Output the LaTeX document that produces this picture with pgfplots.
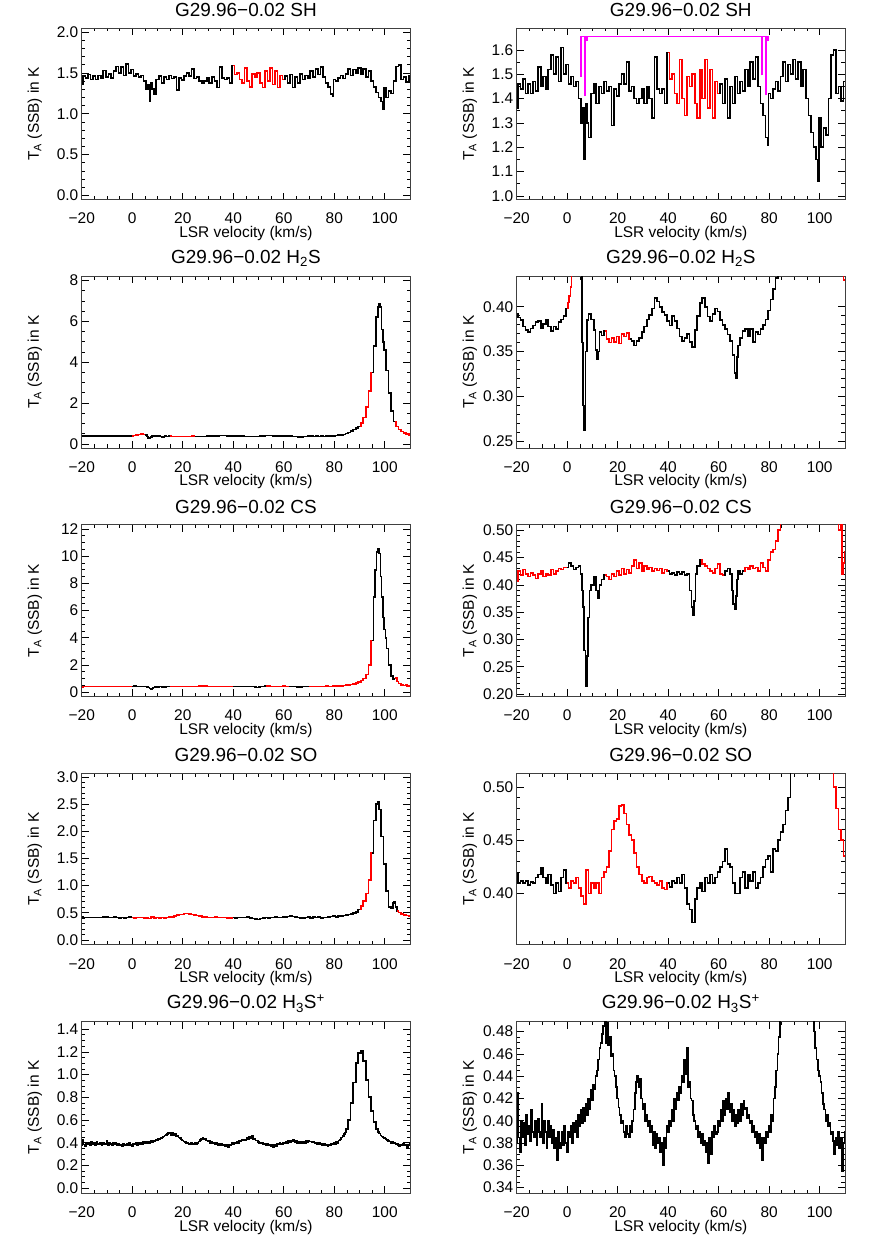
\documentclass[border=0pt]{standalone}
\usepackage{fontspec}
\setmainfont{Liberation Sans}
\usepackage{pgfplots}
\usepackage{pgfplotstable}
\pgfplotsset{compat=1.18}

\pgfplotstableread{
v T
-20 1.36
-19 1.46
-18 1.44
-17 1.48
-16 1.42
-15 1.46
-14 1.42
-13 1.47
-12 1.43
-11 1.53
-10 1.45
-9 1.49
-8 1.44
-7 1.52
-6 1.58
-5 1.50
-4 1.57
-3 1.47
-2 1.61
-1 1.50
0 1.54
1 1.46
2 1.49
3 1.45
4 1.47
5 1.40
6 1.30
6.5 1.36
7 1.15
7.5 1.38
8 1.30
9 1.24
10 1.42
11 1.46
12 1.38
13 1.45
14 1.42
15 1.47
16 1.43
17 1.45
18 1.29
19 1.44
20 1.41
21 1.46
22 1.50
23 1.46
24 1.55
25 1.43
26 1.45
27 1.40
28 1.38
29 1.40
30 1.44
31 1.38
32 1.45
33 1.40
34 1.32
35 1.57
36 1.44
37 1.42
38 1.44
39 1.38
40 1.59
41 1.48
42 1.50
43 1.42
44 1.38
45 1.56
46 1.40
47 1.33
48 1.49
49 1.45
50 1.50
51 1.38
52 1.32
53 1.52
54 1.40
55 1.56
56 1.36
57 1.52
58 1.32
59 1.47
60 1.42
61 1.46
62 1.38
63 1.48
64 1.32
65 1.45
66 1.38
67 1.49
68 1.42
69 1.47
70 1.43
71 1.52
72 1.45
73 1.55
74 1.48
75 1.57
76 1.45
77 1.38
78 1.33
79 1.24
79.5 1.21
80 1.42
81 1.40
82 1.44
83 1.47
84 1.43
85 1.49
86 1.55
87 1.47
88 1.54
89 1.50
90 1.56
91 1.48
92 1.55
93 1.45
94 1.52
95 1.40
96 1.33
97 1.26
98 1.20
99 1.15
99.5 1.06
100 1.32
101 1.20
102 1.28
103 1.25
104 1.40
105 1.58
106 1.60
107 1.42
108 1.45
109 1.39
110 1.47
}\shdata

\pgfplotstableread{
v T
-20 0.392
-19 0.388
-18 0.385
-17 0.378
-16 0.374
-15 0.372
-14 0.376
-13 0.379
-12 0.383
-11 0.384
-10 0.376
-9 0.381
-8 0.385
-7 0.378
-6 0.373
-5 0.378
-4 0.375
-3 0.383
-2 0.386
-1 0.390
0 0.398
0.5 0.405
1 0.412
1.5 0.422
2 0.435
2.5 0.45
3 0.465
4 0.478
5 0.462
5.5 0.44
6 0.36
6.5 0.29
7 0.262
7.5 0.35
8 0.385
9 0.392
10 0.386
11 0.374
11.5 0.352
12 0.342
12.5 0.35
13 0.372
14 0.368
15 0.373
16 0.364
17 0.360
18 0.365
19 0.361
20 0.367
21 0.359
22 0.370
23 0.367
24 0.371
25 0.364
26 0.362
27 0.357
28 0.362
29 0.365
30 0.372
31 0.378
32 0.386
33 0.391
34 0.398
35 0.410
36 0.406
37 0.400
38 0.394
39 0.391
40 0.384
41 0.379
42 0.390
43 0.384
44 0.376
45 0.367
46 0.362
47 0.365
48 0.370
49 0.361
50 0.355
51 0.374
52 0.390
53 0.404
54 0.410
55 0.400
56 0.389
57 0.384
58 0.392
59 0.398
60 0.395
61 0.385
62 0.380
63 0.375
64 0.369
65 0.362
66 0.346
66.5 0.326
67 0.320
67.5 0.344
68 0.357
69 0.365
70 0.373
71 0.375
72 0.367
73 0.375
74 0.361
75 0.372
76 0.369
77 0.375
78 0.380
79 0.386
80 0.396
81 0.408
82 0.420
83 0.432
84 0.450
85 0.50
86 0.55
87 0.62
88 0.70
89 0.78
90 0.86
91 1.02
92 1.30
93 1.80
94 2.60
95 3.50
96 4.80
97 6.20
97.5 6.70
98 6.85
98.5 6.70
99 5.60
99.5 5.00
100 4.60
101 3.60
102 2.50
103 1.60
104 1.10
105 0.85
106 0.70
107 0.60
108 0.52
109 0.47
110 0.43
}\hssdata

\pgfplotstableread{
v T
-20 0.407
-19 0.425
-18 0.418
-17 0.428
-16 0.420
-15 0.415
-14 0.422
-13 0.418
-12 0.412
-11 0.420
-10 0.425
-9 0.415
-8 0.420
-7 0.418
-6 0.428
-5 0.420
-4 0.425
-3 0.430
-2 0.428
-1 0.432
0 0.432
1 0.440
2 0.435
3 0.428
4 0.432
5 0.435
5.5 0.420
6 0.390
6.5 0.360
7 0.280
7.5 0.215
8 0.270
8.5 0.340
9 0.390
10 0.400
11 0.415
12 0.390
12.5 0.375
13 0.400
14 0.410
15 0.418
16 0.415
17 0.410
18 0.420
19 0.415
20 0.425
21 0.418
22 0.430
23 0.420
24 0.428
25 0.422
26 0.435
27 0.445
28 0.430
29 0.440
30 0.425
31 0.435
32 0.428
33 0.432
34 0.425
35 0.430
36 0.426
37 0.430
38 0.422
39 0.428
40 0.425
41 0.420
42 0.422
43 0.418
44 0.424
45 0.420
46 0.424
47 0.418
48 0.420
49 0.390
49.5 0.360
50 0.345
50.5 0.370
51 0.420
52 0.435
53 0.445
54 0.438
55 0.435
56 0.430
57 0.425
58 0.422
59 0.430
60 0.438
61 0.420
62 0.418
63 0.425
64 0.430
65 0.420
65.5 0.390
66 0.365
66.5 0.355
67 0.380
67.5 0.410
68 0.425
69 0.420
70 0.425
71 0.432
72 0.428
73 0.435
74 0.430
75 0.432
76 0.425
77 0.440
78 0.432
79 0.425
80 0.445
81 0.460
82 0.465
83 0.480
84 0.500
85 0.520
86 0.550
87 0.580
88 0.620
89 0.670
90 0.750
91 0.850
92 1.000
93 1.300
94 2.000
95 3.800
96 7.000
96.5 9.000
97 10.30
97.5 10.50
98 10.20
98.5 8.50
99 7.00
99.5 5.50
100 4.60
100.5 4.00
101 3.20
102 2.00
103 1.20
103.5 0.95
104 1.00
104.5 1.05
105 0.80
106 0.65
107 0.55
108 0.50
108.5 0.52
109 0.42
109.5 0.44
110 0.46
}\csdata

\pgfplotstableread{
v T
-20 0.419
-19 0.410
-18 0.412
-17 0.410
-16 0.412
-15 0.408
-14 0.411
-13 0.410
-12 0.415
-11 0.418
-10 0.424
-9 0.415
-8 0.410
-7 0.418
-6 0.408
-5 0.400
-4 0.410
-3 0.402
-2 0.415
-1 0.422
0 0.410
1 0.405
2 0.412
3 0.410
4 0.415
5 0.405
6 0.398
7 0.390
8 0.422
9 0.400
10 0.410
11 0.405
12 0.410
13 0.400
14 0.415
15 0.420
16 0.425
17 0.440
18 0.460
19 0.468
20 0.470
21 0.482
22 0.483
23 0.475
24 0.465
25 0.455
26 0.450
27 0.438
28 0.425
29 0.418
30 0.412
31 0.410
32 0.415
33 0.416
34 0.412
35 0.410
36 0.408
37 0.412
38 0.405
39 0.404
40 0.410
41 0.406
42 0.412
43 0.410
44 0.415
45 0.410
46 0.418
47 0.405
48 0.390
49 0.385
50 0.373
51 0.395
52 0.405
53 0.410
54 0.402
55 0.415
56 0.410
57 0.418
58 0.410
59 0.415
60 0.420
61 0.425
62 0.430
63 0.442
64 0.428
65 0.425
66 0.410
67 0.400
68 0.400
69 0.415
70 0.420
71 0.405
72 0.418
73 0.412
74 0.420
75 0.405
76 0.410
77 0.415
78 0.425
79 0.432
80 0.435
81 0.420
82 0.442
83 0.440
84 0.450
85 0.458
86 0.465
87 0.478
88 0.490
89 0.515
90 0.560
91 0.620
92 0.720
93 0.850
94 1.100
95 1.600
96 2.200
97 2.500
97.5 2.550
98 2.400
99 1.900
100 1.400
101 0.900
102 0.600
103 0.580
103.5 0.680
104 0.700
104.5 0.600
105 0.530
106 0.500
107 0.480
108 0.460
109 0.450
110 0.435
}\sodata

\pgfplotstableread{
v T
-20.0 0.38
-19.5 0.425
-19.0 0.385
-18.5 0.372
-18.0 0.40
-17.5 0.385
-17.0 0.398
-16.5 0.378
-16.0 0.405
-15.5 0.388
-15.0 0.395
-14.5 0.382
-14.0 0.41
-13.5 0.39
-13.0 0.385
-12.5 0.40
-12.0 0.378
-11.5 0.402
-11.0 0.39
-10.5 0.385
-10.0 0.415
-9.5 0.38
-9.0 0.40
-8.5 0.39
-8.0 0.375
-7.5 0.40
-7.0 0.385
-6.5 0.395
-6.0 0.38
-5.5 0.392
-5.0 0.375
-4.5 0.385
-4.0 0.365
-3.5 0.39
-3.0 0.38
-2.5 0.375
-2.0 0.39
-1.5 0.378
-1.0 0.395
-0.5 0.38
0.0 0.372
0.5 0.39
1.0 0.385
1.5 0.395
2.0 0.38
2.5 0.398
3.0 0.39
3.5 0.40
4.0 0.385
4.5 0.405
5.0 0.395
5.5 0.41
6.0 0.398
6.5 0.412
7.0 0.40
7.5 0.415
8.0 0.405
8.5 0.42
9.0 0.41
9.5 0.428
10.0 0.418
10.5 0.432
11.0 0.428
11.5 0.44
12.0 0.445
12.5 0.455
13.0 0.465
13.5 0.47
14.0 0.478
14.5 0.485
15.0 0.49
15.5 0.47
16.0 0.488
16.5 0.468
17.0 0.475
17.5 0.458
18.0 0.46
18.5 0.445
19.0 0.44
19.5 0.43
20.0 0.42
20.5 0.412
21.0 0.405
21.5 0.398
22.0 0.40
22.5 0.39
23.0 0.385
23.5 0.395
24.0 0.388
24.5 0.385
25.0 0.395
25.5 0.39
26.0 0.40
26.5 0.41
27.0 0.425
27.5 0.435
28.0 0.44
28.5 0.43
29.0 0.438
29.5 0.42
30.0 0.41
30.5 0.415
31.0 0.40
31.5 0.405
32.0 0.395
32.5 0.40
33.0 0.39
33.5 0.395
34.0 0.378
34.5 0.39
35.0 0.375
35.5 0.388
36.0 0.38
36.5 0.385
37.0 0.372
37.5 0.38
38.0 0.36
38.5 0.385
39.0 0.375
39.5 0.395
40.0 0.39
40.5 0.40
41.0 0.395
41.5 0.41
42.0 0.40
42.5 0.42
43.0 0.41
43.5 0.425
44.0 0.418
44.5 0.43
45.0 0.425
45.5 0.44
46.0 0.435
46.5 0.455
47.0 0.442
47.5 0.465
48.0 0.43
48.5 0.435
49.0 0.42
49.5 0.418
50.0 0.405
50.5 0.40
51.0 0.392
51.5 0.395
52.0 0.385
52.5 0.39
53.0 0.38
53.5 0.388
54.0 0.378
54.5 0.382
55.0 0.372
55.5 0.38
56.0 0.362
56.5 0.385
57.0 0.37
57.5 0.39
58.0 0.385
58.5 0.395
59.0 0.388
59.5 0.39
60.0 0.40
60.5 0.395
61.0 0.41
61.5 0.40
62.0 0.418
62.5 0.405
63.0 0.42
63.5 0.41
64.0 0.425
64.5 0.408
65.0 0.415
65.5 0.40
66.0 0.41
66.5 0.395
67.0 0.405
67.5 0.398
68.0 0.41
68.5 0.40
69.0 0.415
69.5 0.405
70.0 0.418
70.5 0.41
71.0 0.412
71.5 0.402
72.0 0.405
72.5 0.398
73.0 0.40
73.5 0.39
74.0 0.395
74.5 0.385
75.0 0.39
75.5 0.38
76.0 0.388
76.5 0.375
77.0 0.385
77.5 0.365
78.0 0.385
78.5 0.38
79.0 0.39
79.5 0.385
80.0 0.395
80.5 0.39
81.0 0.405
81.5 0.40
82.0 0.42
82.5 0.43
83.0 0.445
83.5 0.46
84.0 0.475
84.5 0.49
85.0 0.52
86.0 0.60
87.0 0.75
88.0 0.93
89.0 1.10
90.0 1.19
91.0 1.21
92.0 1.12
93.0 0.95
94.0 0.80
95.0 0.68
96.0 0.58
97.0 0.52
97.5 0.495
98.0 0.48
98.5 0.465
99.0 0.455
99.5 0.445
100.0 0.44
100.5 0.435
101.0 0.425
101.5 0.415
102.0 0.41
102.5 0.40
103.0 0.405
103.5 0.395
104.0 0.398
104.5 0.388
105.0 0.39
105.5 0.382
106.0 0.37
106.5 0.385
107.0 0.378
107.5 0.39
108.0 0.375
108.5 0.385
109.0 0.355
109.5 0.38
110.0 0.39
}\hthreedata

\pgfplotsset{
  spec/.style={
    scale only axis, width=329pt, height=172pt,
    xmin=-20, xmax=110,
    xtick={-20,0,20,40,60,80,100},
    xticklabels={−20,0,20,40,60,80,100},
    minor x tick num=3, minor y tick num=4,
    tick align=inside, tick pos=both,
    major tick length=7pt, minor tick length=3.5pt,
    every tick/.style={black, line width=0.7pt},
    axis line style={line width=0.8pt, black!75},
    tick label style={font=\fontsize{15.5}{17}\selectfont},
    label style={font=\fontsize{15.5}{17}\selectfont},
    title style={font=\fontsize{19}{22}\selectfont, at={(axis description cs:0.5,1)}, anchor=center, yshift=12pt},
    xticklabel style={anchor=center, yshift=-19pt},
    xlabel={LSR velocity (km/s)},
    xlabel style={at={(axis description cs:0.5,0)}, anchor=center, yshift=-34pt},
    ylabel={T\textsubscript{A} (SSB) in K},
    ylabel style={at={(axis description cs:-0.143,0.5)}, anchor=center},
    anchor=south west,
  },
  bk/.style={black, line width=1.6pt, const plot mark mid, mark=none},
  rd/.style={red, line width=1.6pt, const plot mark mid, mark=none},
  mg/.style={color={rgb,255:red,255;green,0;blue,255}, line width=1.8pt, mark=none},
}

\begin{document}
\begin{tikzpicture}
\path (0pt,0pt) rectangle (872pt,1245pt);

% Row 1: SH
\begin{axis}[spec, at={(82pt,1048pt)}, title={G29.96−0.02 SH},
  ymin=-0.05, ymax=2.05, ytick={0,0.5,1,1.5,2}, yticklabels={0.0,0.5,1.0,1.5,2.0}]
\addplot[bk] table {\shdata};
\addplot[rd, restrict x to domain=40:60] table {\shdata};
\end{axis}
\begin{axis}[spec, at={(518pt,1048pt)}, title={G29.96−0.02 SH},
  ymin=0.985, ymax=1.69, ytick={1.0,1.1,1.2,1.3,1.4,1.5,1.6}, yticklabels={1.0,1.1,1.2,1.3,1.4,1.5,1.6}, minor y tick num=1]
\addplot[bk] table {\shdata};
\addplot[rd, restrict x to domain=40:60] table {\shdata};
\addplot[mg] coordinates {(5.56,1.655) (79.8,1.655)};
\addplot[mg] coordinates {(5.56,1.49) (5.56,1.655)};
\addplot[mg] coordinates {(7.14,1.41) (7.14,1.655)};
\addplot[mg] coordinates {(7.9,1.635) (7.9,1.655)};
\addplot[mg] coordinates {(77.3,1.495) (77.3,1.655)};
\addplot[mg] coordinates {(78.6,1.413) (78.6,1.655)};
\addplot[mg] coordinates {(79.6,1.635) (79.6,1.655)};
\end{axis}

% Row 2: H2S
\begin{axis}[spec, at={(82pt,799pt)}, title={G29.96−0.02 H\textsubscript{2}S},
  ymin=-0.2, ymax=8.2, ytick={0,2,4,6,8}, yticklabels={0,2,4,6,8}, minor y tick num=3]
\addplot[bk] table {\hssdata};
\addplot[rd, restrict x to domain=0:5] table {\hssdata};
\addplot[rd, restrict x to domain=15:25] table {\hssdata};
\addplot[rd, restrict x to domain=90:95] table {\hssdata};
\addplot[rd, restrict x to domain=104:110] table {\hssdata};
\end{axis}
\begin{axis}[spec, at={(518pt,799pt)}, title={G29.96−0.02 H\textsubscript{2}S},
  ymin=0.2425, ymax=0.434, ytick={0.25,0.30,0.35,0.40}, yticklabels={0.25,0.30,0.35,0.40}]
\addplot[bk] table {\hssdata};
\addplot[rd, restrict x to domain=0:5] table {\hssdata};
\addplot[rd, restrict x to domain=15:25] table {\hssdata};
\addplot[rd, restrict x to domain=90:95] table {\hssdata};
\addplot[rd, restrict x to domain=104:110] table {\hssdata};
\end{axis}

% Row 3: CS
\begin{axis}[spec, at={(82pt,550pt)}, title={G29.96−0.02 CS},
  ymin=-0.3, ymax=12.3, ytick={0,2,4,6,8,10,12}, yticklabels={0,2,4,6,8,10,12}, minor y tick num=3]
\addplot[bk] table {\csdata};
\addplot[rd, restrict x to domain=-20:0] table {\csdata};
\addplot[rd, restrict x to domain=15:40] table {\csdata};
\addplot[rd, restrict x to domain=53:62] table {\csdata};
\addplot[rd, restrict x to domain=70:95] table {\csdata};
\addplot[rd, restrict x to domain=104:110] table {\csdata};
\end{axis}
\begin{axis}[spec, at={(518pt,550pt)}, title={G29.96−0.02 CS},
  ymin=0.196, ymax=0.51, ytick={0.20,0.25,0.30,0.35,0.40,0.45,0.50}, yticklabels={0.20,0.25,0.30,0.35,0.40,0.45,0.50}]
\addplot[bk] table {\csdata};
\addplot[rd, restrict x to domain=-20:0] table {\csdata};
\addplot[rd, restrict x to domain=15:40] table {\csdata};
\addplot[rd, restrict x to domain=53:62] table {\csdata};
\addplot[rd, restrict x to domain=70:95] table {\csdata};
\addplot[rd, restrict x to domain=104:110] table {\csdata};
\end{axis}

% Row 4: SO
\begin{axis}[spec, at={(82pt,301pt)}, title={G29.96−0.02 SO},
  ymin=-0.09, ymax=3.07, ytick={0,0.5,1,1.5,2,2.5,3}, yticklabels={0.0,0.5,1.0,1.5,2.0,2.5,3.0}]
\addplot[bk] table {\sodata};
\addplot[rd, restrict x to domain=0:40] table {\sodata};
\addplot[rd, restrict x to domain=90:95] table {\sodata};
\addplot[rd, restrict x to domain=105:110] table {\sodata};
\end{axis}
\begin{axis}[spec, at={(518pt,301pt)}, title={G29.96−0.02 SO},
  ymin=0.352, ymax=0.513, ytick={0.40,0.45,0.50}, yticklabels={0.40,0.45,0.50}]
\addplot[bk] table {\sodata};
\addplot[rd, restrict x to domain=0:40] table {\sodata};
\addplot[rd, restrict x to domain=90:95] table {\sodata};
\addplot[rd, restrict x to domain=105:110] table {\sodata};
\end{axis}

% Row 5: H3S+
\begin{axis}[spec, at={(82pt,52pt)}, title={G29.96−0.02 H\textsubscript{3}S\textsuperscript{+}},
  ymin=-0.044, ymax=1.467, ytick={0,0.2,0.4,0.6,0.8,1.0,1.2,1.4}, yticklabels={0.0,0.2,0.4,0.6,0.8,1.0,1.2,1.4}, minor y tick num=3]
\addplot[bk] table {\hthreedata};
\end{axis}
\begin{axis}[spec, at={(518pt,52pt)}, title={G29.96−0.02 H\textsubscript{3}S\textsuperscript{+}},
  ymin=0.335, ymax=0.489, ytick={0.34,0.36,0.38,0.40,0.42,0.44,0.46,0.48}, yticklabels={0.34,0.36,0.38,0.40,0.42,0.44,0.46,0.48}, minor y tick num=3]
\addplot[bk] table {\hthreedata};
\end{axis}
\end{tikzpicture}
\end{document}
